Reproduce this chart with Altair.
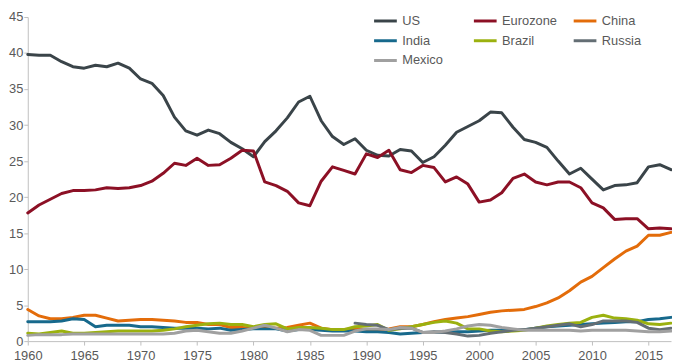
import altair as alt
import pandas as pd

years = list(range(1960, 2018))

series_names = ["US", "Eurozone", "China", "India", "Brazil", "Russia", "Mexico"]
series_colors = ["#3a4449", "#8c1025", "#e36c0a", "#17698c", "#9bb10f", "#646e74", "#a0a0a0"]

us = [39.8, 39.7, 39.7, 38.8, 38.1, 37.9, 38.3, 38.1, 38.6, 37.9,
      36.4, 35.8, 34.1, 31.1, 29.2, 28.6, 29.3, 28.8, 27.6, 26.7,
      25.6, 27.7, 29.2, 31.0, 33.2, 34.0, 30.6, 28.4, 27.3, 28.1,
      26.5, 25.8, 25.7, 26.6, 26.4, 24.8, 25.6, 27.2, 29.0, 29.8,
      30.6, 31.8, 31.7, 29.7, 28.0, 27.6, 26.9, 25.0, 23.2, 24.0,
      22.5, 21.0, 21.6, 21.7, 22.0, 24.2, 24.5, 23.8]

eurozone = [17.8, 18.9, 19.7, 20.5, 20.9, 20.9, 21.0, 21.3, 21.2, 21.3,
            21.6, 22.2, 23.3, 24.7, 24.4, 25.4, 24.4, 24.5, 25.4, 26.5,
            26.4, 22.1, 21.6, 20.8, 19.2, 18.8, 22.2, 24.2, 23.7, 23.2,
            26.0, 25.5, 26.5, 23.8, 23.4, 24.4, 24.1, 22.1, 22.8, 21.8,
            19.3, 19.6, 20.6, 22.6, 23.2, 22.1, 21.7, 22.1, 22.1, 21.3,
            19.2, 18.5, 16.9, 17.0, 17.0, 15.6, 15.7, 15.6]

china = [4.4, 3.5, 3.1, 3.1, 3.3, 3.6, 3.6, 3.2, 2.8, 2.9,
         3.0, 3.0, 2.9, 2.8, 2.6, 2.6, 2.3, 2.3, 1.9, 1.9,
         1.8, 2.0, 1.8, 1.9, 2.2, 2.5, 1.8, 1.6, 1.6, 1.7,
         1.6, 1.5, 1.7, 2.0, 2.0, 2.3, 2.7, 3.0, 3.2, 3.4,
         3.7, 4.0, 4.2, 4.3, 4.4, 4.8, 5.3, 6.0, 7.0, 8.2,
         9.0, 10.2, 11.4, 12.5, 13.2, 14.7, 14.7, 15.1]

india = [2.7, 2.7, 2.7, 2.8, 3.1, 3.0, 2.0, 2.2, 2.2, 2.2,
         2.0, 2.0, 1.9, 1.8, 1.8, 1.8, 1.7, 1.8, 1.5, 1.6,
         1.7, 1.7, 1.7, 1.4, 1.6, 1.6, 1.5, 1.4, 1.4, 1.4,
         1.3, 1.3, 1.2, 1.0, 1.1, 1.2, 1.2, 1.3, 1.3, 1.3,
         1.4, 1.5, 1.5, 1.5, 1.6, 1.8, 2.0, 2.1, 2.2, 2.3,
         2.4, 2.5, 2.6, 2.7, 2.7, 3.0, 3.1, 3.3]

brazil = [1.1, 1.0, 1.2, 1.4, 1.1, 1.1, 1.2, 1.3, 1.4, 1.4,
          1.4, 1.4, 1.5, 1.7, 2.0, 2.2, 2.4, 2.5, 2.3, 2.3,
          2.0, 2.3, 2.4, 1.7, 1.9, 1.9, 1.8, 1.6, 1.6, 2.0,
          2.1, 2.3, 1.5, 1.7, 2.0, 2.3, 2.6, 2.8, 2.5, 1.7,
          1.7, 1.4, 1.3, 1.4, 1.5, 1.8, 2.1, 2.3, 2.5, 2.6,
          3.3, 3.6, 3.2, 3.1, 2.9, 2.4, 2.3, 2.5]

russia_years = list(range(1989, 2018))
russia = [2.5, 2.3, 2.2, 1.6, 1.8, 1.8, 1.2, 1.3, 1.2, 1.0,
          0.7, 0.8, 1.1, 1.3, 1.5, 1.6, 1.8, 2.0, 2.2, 2.4,
          2.0, 2.3, 2.8, 2.8, 2.8, 2.6, 1.8, 1.6, 1.8]

mexico = [0.8, 0.9, 0.9, 0.9, 1.0, 1.0, 1.0, 1.0, 1.0, 1.0,
          1.0, 1.0, 1.0, 1.1, 1.4, 1.5, 1.3, 1.1, 1.1, 1.4,
          1.8, 2.2, 1.8, 1.3, 1.6, 1.5, 0.8, 0.8, 0.8, 1.4,
          1.7, 1.7, 1.6, 1.9, 1.8, 1.2, 1.2, 1.4, 1.7, 2.1,
          2.3, 2.2, 1.9, 1.7, 1.5, 1.5, 1.5, 1.5, 1.5, 1.4,
          1.5, 1.5, 1.5, 1.5, 1.4, 1.3, 1.3, 1.4]

x_ticks = list(range(1960, 2016, 5))
y_ticks = list(range(0, 46, 5))

rows = []
for name, yrs, vals in [("US", years, us), ("Eurozone", years, eurozone),
                        ("China", years, china), ("India", years, india),
                        ("Brazil", years, brazil), ("Russia", russia_years, russia),
                        ("Mexico", years, mexico)]:
    for yr, v in zip(yrs, vals):
        rows.append({"year": yr, "value": v, "series": name})
df = pd.DataFrame(rows)

FONT = "Arial, Liberation Sans, sans-serif"
TXT = "#595959"
AX = "#bfbfbf"

chart = alt.Chart(df).mark_line(strokeWidth=3, strokeJoin="round", strokeCap="round").encode(
    x=alt.X("year:Q",
            scale=alt.Scale(domain=[1960, 2017], nice=False, zero=False),
            axis=alt.Axis(values=x_ticks, format="d", title=None, grid=False,
                          labelFontSize=13, labelFont=FONT, labelColor=TXT,
                          domainColor=AX, tickColor=AX, tickSize=4, labelPadding=5,
                          labelFlush=False, labelOverlap=False)),
    y=alt.Y("value:Q",
            scale=alt.Scale(domain=[0, 45], nice=False),
            axis=alt.Axis(values=y_ticks, title=None, grid=False,
                          labelFontSize=13, labelFont=FONT, labelColor=TXT,
                          domainColor=AX, tickColor=AX, tickSize=4, labelPadding=1,
                          labelFlush=False, labelOverlap=False)),
    color=alt.Color("series:N",
                    scale=alt.Scale(domain=series_names, range=series_colors),
                    legend=alt.Legend(title=None, orient="none", legendX=349, legendY=-9,
                                      direction="horizontal",
                                      columns=3, gridAlign="all",
                                      symbolType="stroke", symbolSize=529,
                                      symbolStrokeWidth=3, labelFontSize=13,
                                      labelFont=FONT, labelColor=TXT,
                                      columnPadding=10, rowPadding=0,
                                      labelOffset=4, padding=0)),
).properties(
    width=651, height=328,
    autosize=alt.AutoSizeParams(type="none"),
    padding={"left": 20, "top": 7, "right": 1, "bottom": 20},
).configure_view(stroke=None)

chart.save("out.html", embed_options={"renderer": "svg", "actions": False})
